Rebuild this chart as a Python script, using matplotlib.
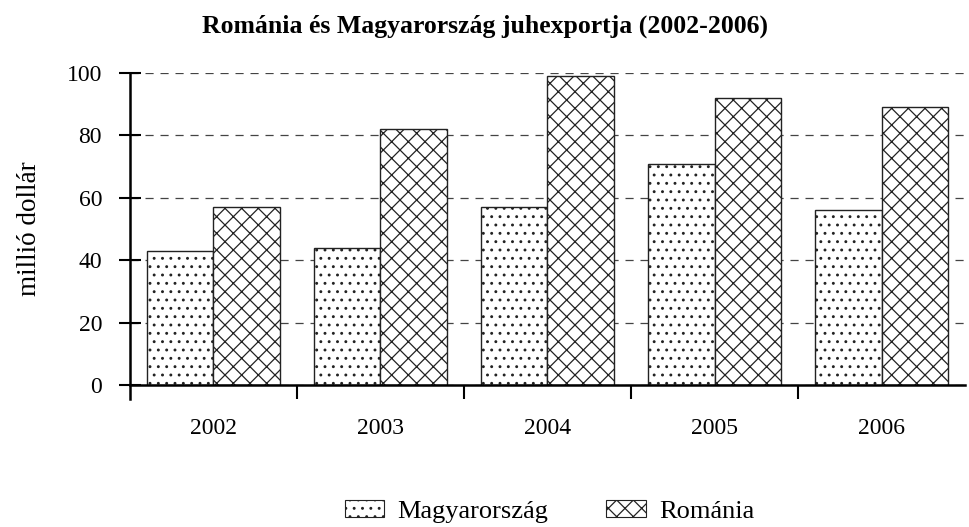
import numpy as np
import matplotlib
matplotlib.use("Agg")
import matplotlib.pyplot as plt
from matplotlib.patches import Patch

years = ["2002", "2003", "2004", "2005", "2006"]
hungary = [43, 44, 57, 71, 56]
romania = [57, 82, 99, 92, 89]

plt.rcParams.update({"font.family": ["Liberation Serif", "DejaVu Serif"],
                     "hatch.linewidth": 0.9, "hatch.color": "#111111"})

fig = plt.figure(figsize=(9.69, 5.27), dpi=100)
ax = fig.add_axes([0.134, 0.2694, 0.862, 0.592])

x = np.arange(len(years))
w = 0.4
ax.bar(x - w / 2, hungary, w, facecolor="white", edgecolor="#222222",
       linewidth=1.0, hatch="..", zorder=2)
ax.bar(x + w / 2, romania, w, facecolor="white", edgecolor="#222222",
       linewidth=1.0, hatch="xx", zorder=2)

ax.set_xlim(-0.5, len(years) - 0.5)
ax.set_ylim(0, 100)
ax.set_yticks(range(0, 101, 20))
ax.yaxis.grid(True, color="#444444", linewidth=0.9, linestyle=(0, (6.5, 5.5)))
ax.set_axisbelow(True)

# category boundaries carry the ticks, labels sit at the centres
ax.set_xticks(np.arange(0.5, len(years) - 0.5, 1))
ax.set_xticklabels([])
ax.set_xticks(x, minor=True)
ax.set_xticklabels(years, minor=True)
ax.tick_params(axis="x", which="major", direction="out", length=10, width=1.5)
ax.tick_params(axis="x", which="minor", length=0, pad=24, labelsize=17)
ax.tick_params(axis="y", direction="inout", length=16, width=1.5, labelsize=17, pad=12)

for side in ("top", "right"):
    ax.spines[side].set_visible(False)
ax.spines["left"].set_linewidth(1.8)
ax.spines["bottom"].set_linewidth(1.8)
ax.spines["left"].set_bounds(-4.5, 100)

ax.set_ylabel("millió dollár", fontsize=19.5, labelpad=18)

fig.text(0.5, 0.95, "Románia és Magyarország juhexportja (2002-2006)",
         ha="center", va="center", fontsize=18.5, fontweight="bold")

handles = [Patch(facecolor="white", edgecolor="#222222", hatch="..", linewidth=0.8),
           Patch(facecolor="white", edgecolor="#222222", hatch="xx", linewidth=0.8)]
fig.legend(handles, ["Magyarország", "Románia"], loc="center",
           bbox_to_anchor=(0.567, 0.03), ncol=2, frameon=False, fontsize=19,
           handlelength=1.5, handleheight=0.6, handletextpad=0.5, columnspacing=2.2)

fig.savefig("out.png", dpi=100)
